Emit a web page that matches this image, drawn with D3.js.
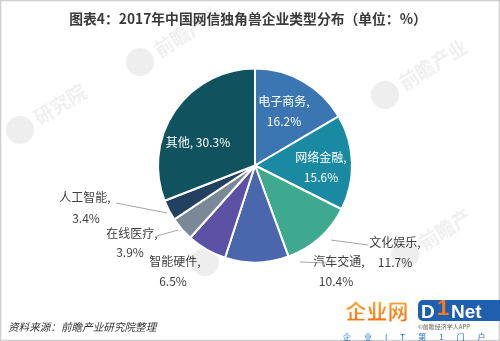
<!DOCTYPE html>
<html>
<head>
<meta charset="utf-8">
<script src="https://cdn.jsdelivr.net/npm/d3@7/dist/d3.min.js"></script>
<style>
  html, body { margin: 0; padding: 0; background: #fff; }
  svg { display: block; font-family: "Noto Sans CJK SC", "Noto Sans", sans-serif; }
</style>
</head>
<body>
<svg id="chart" width="500" height="341"></svg>
<script>
// Unicorn company categories, clockwise from 12 o'clock
const categories = ["电子商务", "网络金融", "文化娱乐", "汽车交通", "智能硬件", "在线医疗", "人工智能", "其他"];
const shares = [16.2, 15.6, 11.7, 10.4, 6.5, 3.9, 3.4, 30.3];
const sliceColors = ["#3b76b3", "#1a8aa2", "#3ea98f", "#4a66ad", "#5b51a5", "#7a8898", "#22405f", "#10535f"];

const titleText = "图表4：2017年中国网信独角兽企业类型分布（单位：%）";
const sourceText = "资料来源：前瞻产业研究院整理";

const svg = d3.select("#chart");
const W = 500, H = 341;

// frame
svg.append("rect").attr("x", 0.5).attr("y", 0.5).attr("width", W - 1).attr("height", H - 1)
  .attr("fill", "#fff").attr("stroke", "#cfcfcf").attr("stroke-width", 1.5);

// faint publisher marks in the background
const marks = [
  { x: 140, y: 62, t: "前瞻产业" },
  { x: 385, y: 95, t: "前瞻产业" },
  { x: 20, y: 130, t: "研究院" },
  { x: 405, y: 255, t: "前瞻产" },
  { x: 205, y: 262, t: "前瞻" }
];
const wm = svg.append("g").attr("opacity", 0.35);
marks.forEach(m => {
  const g = wm.append("g").attr("transform", `translate(${m.x},${m.y}) rotate(-32)`);
  g.append("circle").attr("r", 14).attr("fill", "#cfcfcf");
  g.append("text").attr("x", 19).attr("y", 7).attr("font-size", 19).attr("fill", "#d2d2d2")
    .attr("font-weight", "bold").text(m.t);
});

// title
svg.append("text").attr("x", 248).attr("y", 24).attr("text-anchor", "middle")
  .attr("font-size", 13.8).attr("font-weight", "bold").attr("fill", "#3a3a3a").text(titleText);

// pie
const cx = 255, cy = 165.5, R = 97;
const data = categories.map((c, i) => ({ name: c, value: shares[i], color: sliceColors[i] }));
const pie = d3.pie().value(d => d.value).sort(null);
const arc = d3.arc().innerRadius(0).outerRadius(R);
const arcs = pie(data);

const gPie = svg.append("g").attr("transform", `translate(${cx},${cy})`);
gPie.selectAll("path").data(arcs).join("path")
  .attr("d", arc).attr("fill", d => d.data.color)
  .attr("stroke", "#fff").attr("stroke-width", 2).attr("stroke-linejoin", "round");

// label placement per category
const labelPos = {
  "电子商务": { x: 284, y: 106, x2: 284, y2: 126, inside: true },
  "网络金融": { x: 321, y: 162, x2: 321, y2: 182, inside: true },
  "文化娱乐": { x: 395, y: 247, x2: 395, y2: 267, lead: [[331, 240], [368, 245]] },
  "汽车交通": { x: 339, y: 266, x2: 336, y2: 286, lead: [[300, 262], [327, 263]] },
  "智能硬件": { x: 175, y: 266, x2: 173, y2: 286 },
  "在线医疗": { x: 132, y: 238, x2: 130, y2: 257, lead: [[178, 230], [157, 236]] },
  "人工智能": { x: 85, y: 202, x2: 86, y2: 223, lead: [[167, 213], [116, 203]] },
  "其他":     { x: 198, y: 147, single: true, inside: true }
};

const gLab = svg.append("g").attr("font-size", 12);
arcs.forEach(a => {
  const p = labelPos[a.data.name];
  const fill = p.inside ? "#ffffff" : "#404040";
  if (p.lead) {
    gLab.append("polyline")
      .attr("points", p.lead.map(q => q.join(",")).join(" "))
      .attr("fill", "none").attr("stroke", "#a6a6a6").attr("stroke-width", 1);
  }
  if (p.single) {
    gLab.append("text").attr("x", p.x).attr("y", p.y).attr("text-anchor", "middle")
      .attr("fill", fill).text(`${a.data.name}, ${d3.format(".1f")(a.data.value)}%`);
  } else {
    gLab.append("text").attr("x", p.x).attr("y", p.y).attr("text-anchor", "middle")
      .attr("fill", fill).text(`${a.data.name},`);
    gLab.append("text").attr("x", p.x2).attr("y", p.y2).attr("text-anchor", "middle")
      .attr("fill", fill).text(`${d3.format(".1f")(a.data.value)}%`);
  }
});

// source note
svg.append("text").attr("x", 8).attr("y", 331).attr("font-size", 10.6)
  .attr("font-style", "italic").attr("fill", "#333").text(sourceText);

// site badge, bottom right
const badge = svg.append("g");
const grad = svg.append("defs").append("linearGradient").attr("id", "orangeGrad")
  .attr("x1", 0).attr("y1", 0).attr("x2", 0).attr("y2", 1);
grad.append("stop").attr("offset", "0%").attr("stop-color", "#ffb23a");
grad.append("stop").attr("offset", "100%").attr("stop-color", "#ef6a10");
badge.append("text").attr("x", 444).attr("y", 328.5).attr("text-anchor", "middle")
  .attr("font-size", 6).attr("fill", "#666").text("©前瞻经济学人APP");
badge.append("text").attr("x", 377).attr("y", 319).attr("text-anchor", "middle")
  .attr("font-size", 21).attr("font-weight", "900").attr("fill", "url(#orangeGrad)")
  .attr("stroke", "#fff").attr("stroke-width", 0.8).text("企业网");
badge.append("rect").attr("x", 418).attr("y", 300).attr("width", 86).attr("height", 21)
  .attr("rx", 5).attr("fill", "#1f5fb0");
const logoFont = "Arial, 'Liberation Sans', sans-serif";
badge.append("text").attr("x", 421).attr("y", 317.5).attr("font-size", 19).attr("font-weight", "bold")
  .attr("font-family", logoFont).attr("fill", "#fff").text("D");
badge.append("text").attr("x", 437).attr("y", 315).attr("font-size", 22).attr("font-weight", "bold")
  .attr("font-family", logoFont).attr("fill", "#ff7a12").text("1");
badge.append("text").attr("x", 451).attr("y", 317.5).attr("font-size", 19).attr("font-weight", "bold")
  .attr("font-family", logoFont).attr("fill", "#fff").text("Net");
badge.append("text").attr("x", 343).attr("y", 339.8).attr("font-size", 8)
  .attr("fill", "#2a6fc0").attr("letter-spacing", 13).text("企业IT第1门户");
</script>
</body>
</html>
